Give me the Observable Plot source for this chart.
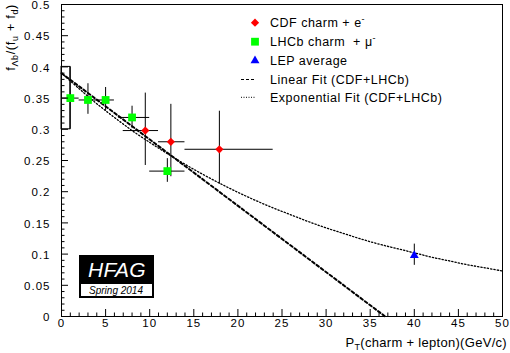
<!DOCTYPE html>
<html><head><meta charset="utf-8">
<script src="https://cdn.jsdelivr.net/npm/d3@7"></script>
<script src="https://cdn.jsdelivr.net/npm/@observablehq/plot@0.6"></script>
<style>
html,body{margin:0;padding:0;background:#fff;}
#chart{position:relative;width:510px;height:353px;}
</style></head><body><div id="chart"></div>
<script>
// ---- data ----
const lhcbX    = [1, 3, 5, 8, 12];
const lhcbY    = [0.350, 0.347, 0.347, 0.319, 0.233];
const lhcbXLo  = [0, 2, 4, 6.5, 10];
const lhcbXHi  = [2, 4, 6, 10, 14];
const lhcbYLo  = [0.300, 0.324, 0.329, 0.301, 0.215];
const lhcbYHi  = [0.400, 0.373, 0.367, 0.337, 0.253];
const lhcbBox  = [{x1: 0, x2: 1, y1: 0.300, y2: 0.400}];

const cdfX   = [9.5, 12.4, 17.9];
const cdfY   = [0.298, 0.280, 0.268];
const cdfXLo = [7, 11, 14];
const cdfXHi = [11, 14, 24];
const cdfYLo = [0.242, 0.224, 0.212];
const cdfYHi = [0.358, 0.340, 0.329];

const lepX   = [40];
const lepY   = [0.098];
const lepYLo = [0.082];
const lepYHi = [0.116];

const linFitX = [0, 36.7];
const linFitY = [0.390, 0.000];

const expFitX = [0,2,4,6,8,10,12,14,16,18,20,22,24,26,28,30,32,34,36,38,40,42,44,46,48,50];
const expFitY = [0.390,0.365,0.341,0.319,0.298,0.279,0.261,0.244,0.228,0.213,0.199,0.186,0.174,
                 0.163,0.152,0.142,0.133,0.124,0.116,0.109,0.102,0.095,0.089,0.083,0.078,0.073];

const xMajor = [0,5,10,15,20,25,30,35,40,45,50];
const xTickLabels = ["0","5","10","15","20","25","30","35","40","45","50"];
const yMajor = [0,0.05,0.1,0.15,0.2,0.25,0.3,0.35,0.4,0.45,0.5];
const yTickLabels = ["0","0.05","0.1","0.15","0.2","0.25","0.3","0.35","0.4","0.45","0.5"];
const xMinor = d3.range(0, 51).filter(d => d % 5 !== 0);
const yMinor = d3.range(0, 51).filter(d => d % 5 !== 0).map(d => d / 100);

// ---- tables ----
const lhcb = lhcbX.map((x, i) => ({x, y: lhcbY[i], xlo: lhcbXLo[i], xhi: lhcbXHi[i], ylo: lhcbYLo[i], yhi: lhcbYHi[i]}));
const cdf  = cdfX.map((x, i) => ({x, y: cdfY[i], xlo: cdfXLo[i], xhi: cdfXHi[i], ylo: cdfYLo[i], yhi: cdfYHi[i]}));
const lep  = lepX.map((x, i) => ({x, y: lepY[i], ylo: lepYLo[i], yhi: lepYHi[i]}));
const lin  = linFitX.map((x, i) => ({x, y: linFitY[i]}));
const expo = expFitX.map((x, i) => ({x, y: expFitY[i]}));

const W = 510, H = 353, ML = 61, MR = 8, MT = 4, MB = 37;
const PW = W - ML - MR, PH = H - MT - MB;
const FONT = "'Liberation Sans', Arial, Helvetica, sans-serif";

const svg = Plot.plot({
  width: W, height: H,
  marginLeft: ML, marginRight: MR, marginTop: MT, marginBottom: MB,
  x: {domain: [0, 50], axis: null},
  y: {domain: [0, 0.5], axis: null},
  style: {fontFamily: FONT, fontSize: "11.5px", background: "white", overflow: "visible"},
  marks: [
    // curves
    Plot.line(expo, {x: "x", y: "y", curve: "catmull-rom", stroke: "black", strokeWidth: 1.3, strokeDasharray: "1.3 2"}),
    Plot.line(lin, {x: "x", y: "y", stroke: "black", strokeWidth: 2, strokeDasharray: "3 2.5"}),
    // error bars
    Plot.rect(lhcbBox, {x1: "x1", x2: "x2", y1: "y1", y2: "y2", fill: "none", stroke: "black", strokeWidth: 1}),
    Plot.ruleX(lhcb, {x: "x", y1: "ylo", y2: "yhi", stroke: "black", strokeWidth: 1}),
    Plot.ruleY(lhcb, {y: "y", x1: "xlo", x2: "xhi", stroke: "black", strokeWidth: 1}),
    Plot.ruleX(cdf, {x: "x", y1: "ylo", y2: "yhi", stroke: "black", strokeWidth: 1}),
    Plot.ruleY(cdf, {y: "y", x1: "xlo", x2: "xhi", stroke: "black", strokeWidth: 1}),
    Plot.ruleX(lep, {x: "x", y1: "ylo", y2: "yhi", stroke: "black", strokeWidth: 1}),
    // markers
    Plot.dot(lhcb, {x: "x", y: "y", symbol: "square", r: 4.4, fill: "#00ff00", stroke: "none"}),
    Plot.dot(cdf, {x: "x", y: "y", symbol: "diamond2", r: 3.7, fill: "#ff0000", stroke: "none"}),
    Plot.dot(lep, {x: "x", y: "y", symbol: "triangle", r: 3.3, fill: "#0000ff", stroke: "none"}),
    // ticks (inside the frame, ROOT style)
    Plot.tickX(xMajor, {x: d => d, insetTop: PH - 7, stroke: "black", strokeWidth: 1}),
    Plot.tickX(xMinor, {x: d => d, insetTop: PH - 3.5, stroke: "black", strokeWidth: 1}),
    Plot.tickY(yMajor, {y: d => d, insetRight: PW - 7, stroke: "black", strokeWidth: 1}),
    Plot.tickY(yMinor, {y: d => d, insetRight: PW - 3.5, stroke: "black", strokeWidth: 1}),
    // tick labels
    Plot.text(xMajor, {x: d => d, frameAnchor: "bottom", dy: 10, text: (d, i) => xTickLabels[i], fontSize: 11.5, fill: "black"}),
    Plot.text(yMajor, {y: d => d, frameAnchor: "left", dx: -11, dy: 1, textAnchor: "end", text: (d, i) => yTickLabels[i], fontSize: 11.5, fill: "black"}),
    Plot.frame({stroke: "black", strokeWidth: 1})
  ]
});
svg.querySelectorAll("text").forEach(t => t.style.letterSpacing = "1px");

const g = d3.select(svg).append("g").attr("font-family", FONT).attr("fill", "black").attr("text-anchor", "start");

// axis titles
const yt = g.append("text").attr("transform", "translate(15,4) rotate(-90)")
  .attr("text-anchor", "end").attr("font-size", 13).attr("letter-spacing", "0.6px");
yt.append("tspan").text("f");
yt.append("tspan").attr("dy", 3).attr("font-size", 9).text("Λb");
yt.append("tspan").attr("dy", -3).text("/(f");
yt.append("tspan").attr("dy", 3).attr("font-size", 9).text("u");
yt.append("tspan").attr("dy", -3).text(" + f");
yt.append("tspan").attr("dy", 3).attr("font-size", 9).text("d");
yt.append("tspan").attr("dy", -3).text(")");

const xt = g.append("text").attr("x", 507).attr("y", 347)
  .attr("text-anchor", "end").attr("font-size", 13).attr("letter-spacing", "0.3px");
xt.append("tspan").text("P");
xt.append("tspan").attr("dy", 3).attr("font-size", 9).text("T");
xt.append("tspan").attr("dy", -3).text("(charm + lepton)(GeV/c)");

// legend
const legRows = [22.7, 41.7, 60.7, 79.5, 97.3];
const lx = 255, tx = 270;
g.append("path").attr("transform", `translate(${lx},${legRows[0]})`)
  .attr("d", d3.symbol(d3.symbolDiamond2, Math.PI * 3.7 * 3.7)()).attr("fill", "#ff0000");
g.append("path").attr("transform", `translate(${lx},${legRows[1]})`)
  .attr("d", d3.symbol(d3.symbolSquare, Math.PI * 4.4 * 4.4)()).attr("fill", "#00ff00");
g.append("path").attr("transform", `translate(${lx},${legRows[2]})`)
  .attr("d", d3.symbol(d3.symbolTriangle, Math.PI * 3.3 * 3.3)()).attr("fill", "#0000ff");
g.append("line").attr("x1", 241).attr("x2", 256).attr("y1", legRows[3]).attr("y2", legRows[3])
  .attr("stroke", "black").attr("stroke-width", 1).attr("stroke-dasharray", "3 2");
g.append("line").attr("x1", 241).attr("x2", 256).attr("y1", legRows[4]).attr("y2", legRows[4])
  .attr("stroke", "black").attr("stroke-width", 1).attr("stroke-dasharray", "1 1.5");

function legText(i) {
  return g.append("text").attr("x", tx).attr("y", legRows[i] + 4.5).attr("text-anchor", "start")
    .attr("font-size", 12.5).attr("letter-spacing", "0.5px");
}
let t0 = legText(0); t0.append("tspan").text("CDF charm + e");
t0.append("tspan").attr("dy", -5).attr("font-size", 9).text("-");
let t1 = legText(1); t1.append("tspan").text("LHCb charm  + μ");
t1.append("tspan").attr("dy", -5).attr("font-size", 9).text("-");
legText(2).text("LEP average");
legText(3).text("Linear Fit (CDF+LHCb)");
legText(4).text("Exponential Fit (CDF+LHCb)");

// HFAG logo
g.append("rect").attr("x", 79).attr("y", 255).attr("width", 75).attr("height", 43).attr("fill", "black");
g.append("rect").attr("x", 81).attr("y", 284).attr("width", 71).attr("height", 12).attr("fill", "white");
g.append("text").attr("x", 117).attr("y", 277).attr("text-anchor", "middle")
  .attr("font-size", 21).attr("font-style", "italic").attr("fill", "white").attr("letter-spacing", "0.3px").text("HFAG");
g.append("text").attr("x", 116).attr("y", 293.5).attr("text-anchor", "middle")
  .attr("font-size", 10).attr("font-style", "italic").attr("fill", "black").text("Spring 2014");

document.getElementById("chart").appendChild(svg);
</script>
</body></html>
